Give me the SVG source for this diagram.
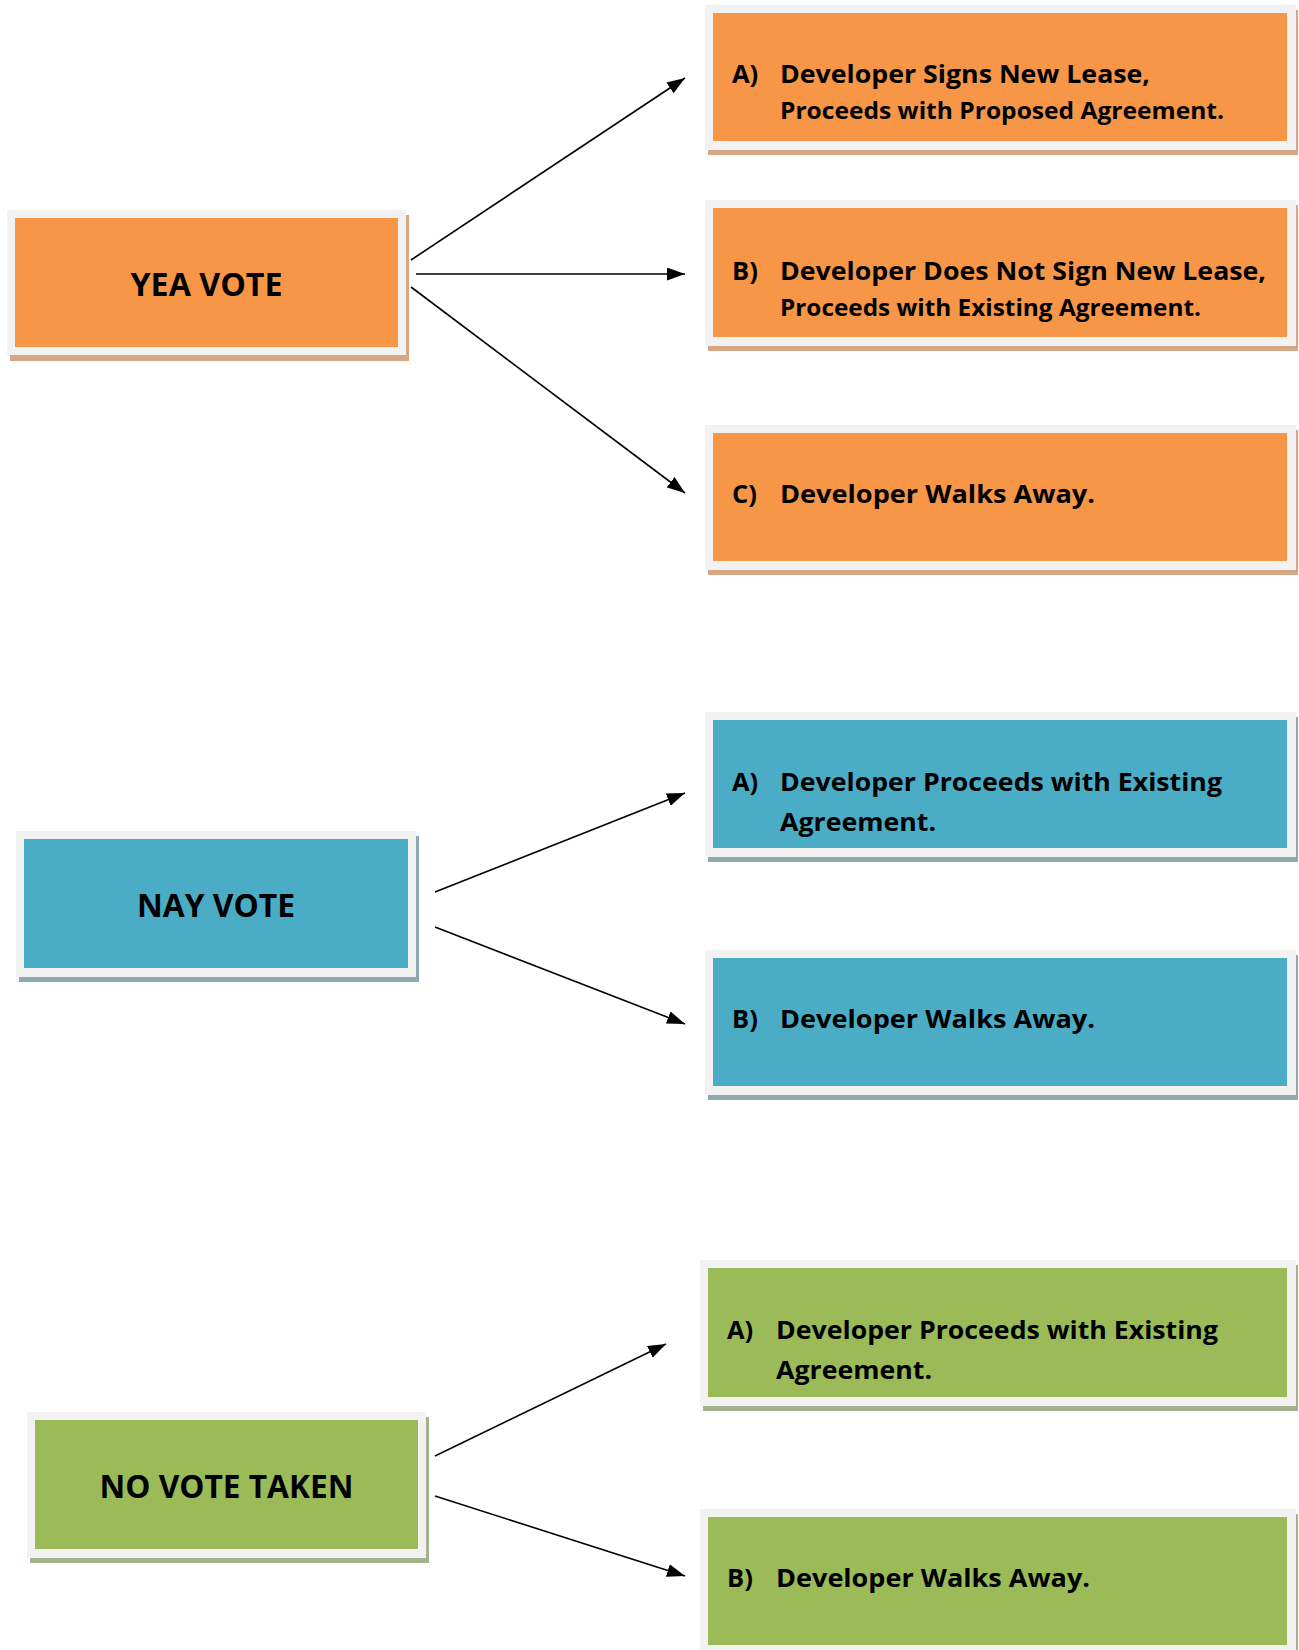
<svg xmlns="http://www.w3.org/2000/svg" width="1299" height="1650" viewBox="0 0 1299 1650">
<defs>
<style>
.frame{fill:#F2F2F2}
.sh-o{fill:#D6A784}
.sh-b{fill:#8FA9B1}
.sh-g{fill:#A5B38C}
.or{fill:#F79646}
.bl{fill:#4BACC6}
.gr{fill:#9BBB59}
text{font-family:"Open Sans",Lato,"Liberation Sans",sans-serif;font-weight:bold;fill:#000}
.big{font-size:33px;text-anchor:middle}
.t1{font-size:25.5px}
.t2{font-size:24px}
.conn line{stroke:#000;stroke-width:1.6;fill:none}
</style>
<marker id="ah" markerUnits="userSpaceOnUse" markerWidth="20" markerHeight="14" refX="18" refY="6.5" orient="auto">
<path d="M0,0 L18,6.5 L0,13 z" fill="#000"/>
</marker>
</defs>
<rect width="1299" height="1650" fill="#fff"/>

<g id="yea">
<rect class="sh-o" x="10" y="215" width="399" height="146"/>
<rect class="frame" x="7" y="210" width="399" height="145"/>
<rect class="or" x="15" y="218" width="383" height="129"/>
<text class="big" x="206.5" y="296" textLength="152" lengthAdjust="spacingAndGlyphs">YEA VOTE</text>
</g>
<g id="yea-a">
<rect class="sh-o" x="708" y="10" width="590" height="145"/>
<rect class="frame" x="705" y="5" width="591" height="145"/>
<rect class="or" x="713" y="13" width="574" height="128"/>
<text class="t1" x="732" y="83">A)</text>
<text class="t1" x="780" y="83" textLength="370" lengthAdjust="spacingAndGlyphs">Developer Signs New Lease,</text>
<text class="t2" x="780" y="119" textLength="444" lengthAdjust="spacingAndGlyphs">Proceeds with Proposed Agreement.</text>
</g>
<g id="yea-b">
<rect class="sh-o" x="708" y="205" width="590" height="146"/>
<rect class="frame" x="705" y="200" width="591" height="146"/>
<rect class="or" x="713" y="208" width="574" height="129"/>
<text class="t1" x="732" y="280">B)</text>
<text class="t1" x="780" y="280" textLength="486" lengthAdjust="spacingAndGlyphs">Developer Does Not Sign New Lease,</text>
<text class="t2" x="780" y="316" textLength="421" lengthAdjust="spacingAndGlyphs">Proceeds with Existing Agreement.</text>
</g>
<g id="yea-c">
<rect class="sh-o" x="708" y="430" width="590" height="145"/>
<rect class="frame" x="705" y="425" width="591" height="145"/>
<rect class="or" x="713" y="433" width="574" height="128"/>
<text class="t1" x="732" y="503">C)</text>
<text class="t1" x="780" y="503" textLength="315" lengthAdjust="spacingAndGlyphs">Developer Walks Away.</text>
</g>

<g id="nay">
<rect class="sh-b" x="19" y="836" width="400" height="146"/>
<rect class="frame" x="16" y="831" width="400" height="146"/>
<rect class="bl" x="24" y="839" width="384" height="129"/>
<text class="big" x="216" y="917" textLength="158" lengthAdjust="spacingAndGlyphs">NAY VOTE</text>
</g>
<g id="nay-a">
<rect class="sh-b" x="708" y="717" width="590" height="145"/>
<rect class="frame" x="705" y="712" width="591" height="145"/>
<rect class="bl" x="713" y="720" width="574" height="128"/>
<text class="t1" x="732" y="791">A)</text>
<text class="t1" x="780" y="791" textLength="442" lengthAdjust="spacingAndGlyphs">Developer Proceeds with Existing</text>
<text class="t1" x="780" y="831" textLength="156" lengthAdjust="spacingAndGlyphs">Agreement.</text>
</g>
<g id="nay-b">
<rect class="sh-b" x="708" y="955" width="590" height="145"/>
<rect class="frame" x="705" y="950" width="591" height="145"/>
<rect class="bl" x="713" y="958" width="574" height="128"/>
<text class="t1" x="732" y="1028">B)</text>
<text class="t1" x="780" y="1028" textLength="315" lengthAdjust="spacingAndGlyphs">Developer Walks Away.</text>
</g>

<g id="no">
<rect class="sh-g" x="30" y="1417" width="399" height="146"/>
<rect class="frame" x="27" y="1412" width="399" height="146"/>
<rect class="gr" x="35" y="1420" width="383" height="129"/>
<text class="big" x="226.5" y="1498" textLength="254" lengthAdjust="spacingAndGlyphs">NO VOTE TAKEN</text>
</g>
<g id="no-a">
<rect class="sh-g" x="703" y="1265" width="595" height="146"/>
<rect class="frame" x="700" y="1260" width="596" height="146"/>
<rect class="gr" x="708" y="1268" width="579" height="129"/>
<text class="t1" x="727" y="1339">A)</text>
<text class="t1" x="776" y="1339" textLength="442" lengthAdjust="spacingAndGlyphs">Developer Proceeds with Existing</text>
<text class="t1" x="776" y="1379" textLength="156" lengthAdjust="spacingAndGlyphs">Agreement.</text>
</g>
<g id="no-b">
<rect class="sh-g" x="703" y="1514" width="595" height="145"/>
<rect class="frame" x="700" y="1509" width="596" height="145"/>
<rect class="gr" x="708" y="1517" width="579" height="128"/>
<text class="t1" x="727" y="1587">B)</text>
<text class="t1" x="776" y="1587" textLength="314" lengthAdjust="spacingAndGlyphs">Developer Walks Away.</text>
</g>

<g id="connectors" class="conn">
<line x1="411" y1="260" x2="685" y2="78" marker-end="url(#ah)"/>
<line x1="416" y1="274" x2="685" y2="274" marker-end="url(#ah)"/>
<line x1="411" y1="287" x2="685" y2="493" marker-end="url(#ah)"/>
<line x1="435" y1="892" x2="685" y2="793" marker-end="url(#ah)"/>
<line x1="435" y1="927" x2="685" y2="1024" marker-end="url(#ah)"/>
<line x1="435" y1="1456" x2="666" y2="1344" marker-end="url(#ah)"/>
<line x1="435" y1="1496" x2="685" y2="1576" marker-end="url(#ah)"/>
</g>
</svg>
